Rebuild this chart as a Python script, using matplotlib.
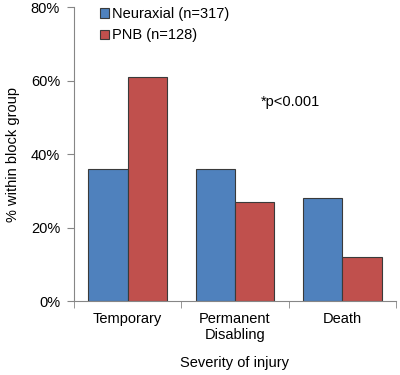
import matplotlib
matplotlib.use("Agg")
import matplotlib.pyplot as plt
import numpy as np
from matplotlib.ticker import FuncFormatter

plt.rcParams['font.family'] = ['Liberation Sans', 'DejaVu Sans']

categories = ["Temporary", "Permanent\nDisabling", "Death"]
neuraxial = [36, 36, 28]
pnb = [61, 27, 12]
series_names = ["Neuraxial (n=317)", "PNB (n=128)"]

fig = plt.figure(figsize=(4, 3.75), dpi=100)
ax = fig.add_axes([0.185, 0.197, 0.805, 0.784])

x = np.arange(len(categories))
w = 0.365
ax.bar(x - w/2, neuraxial, w, color="#4F81BD", edgecolor="#3a3a3a", linewidth=0.8, label=series_names[0])
ax.bar(x + w/2, pnb, w, color="#C0504D", edgecolor="#3a3a3a", linewidth=0.8, label=series_names[1])

ax.set_xlim(-0.5, 2.5)
ax.set_ylim(0, 80)
ax.set_yticks([0, 20, 40, 60, 80])
ax.yaxis.set_major_formatter(FuncFormatter(lambda v, p: f"{int(v)}%"))
ax.set_xticks(x)
ax.set_xticklabels(categories, fontsize=10.5)
ax.set_xticks([-0.5, 0.5, 1.5, 2.5], minor=True)
ax.tick_params(axis='x', which='major', length=0, pad=8)
ax.tick_params(axis='x', which='minor', length=5, color="#868686", direction='out')
ax.tick_params(axis='y', length=5, color="#868686", labelsize=10.5, pad=5)

for s in ['top', 'right']:
    ax.spines[s].set_visible(False)
for s in ['left', 'bottom']:
    ax.spines[s].set_color("#868686")

ax.set_xlabel("Severity of injury", fontsize=10.5, labelpad=10)
ax.set_ylabel("% within block group", fontsize=10.5, labelpad=8)

ax.text(0.58, 0.665, "*p<0.001", transform=ax.transAxes, fontsize=10.5)

leg = ax.legend(loc='upper left', bbox_to_anchor=(0.04, 1.045), frameon=False, fontsize=10.5,
                handlelength=0.6, handleheight=0.6, handletextpad=0.25, labelspacing=0.5)

fig.savefig("out.png", dpi=100)
